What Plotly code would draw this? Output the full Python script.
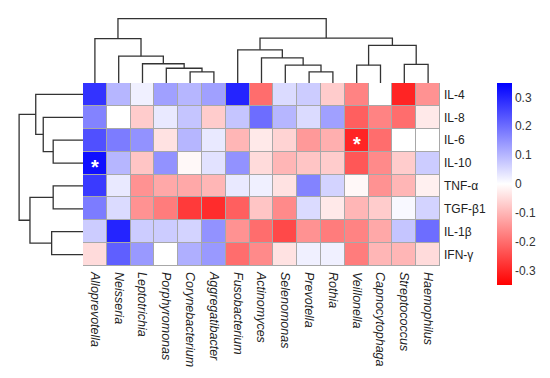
import plotly.graph_objects as go

# ---------------- data ----------------
genera = ["Alloprevotella", "Neisseria", "Leptotrichia", "Porphyromonas", "Corynebacterium",
          "Aggregatibacter", "Fusobacterium", "Actinomyces", "Selenomonas", "Prevotella",
          "Rothia", "Veillonella", "Capnocytophaga", "Streptococcus", "Haemophilus"]
cytokines = ["IL-4", "IL-8", "IL-6", "IL-10", "TNF-α", "TGF-β1", "IL-1β", "IFN-γ"]

il4   = [0.28, 0.10, 0.02, 0.13, 0.10, 0.13, 0.30, -0.20, 0.05, 0.07, -0.07, -0.17, 0.00, -0.30, -0.15]
il8   = [0.17, 0.00, -0.07, 0.03, 0.08, -0.07, 0.08, 0.20, 0.10, 0.05, 0.13, -0.22, -0.17, -0.20, -0.03]
il6   = [0.24, 0.18, 0.15, -0.04, 0.10, 0.03, -0.10, -0.03, -0.06, -0.14, -0.11, -0.30, -0.20, 0.00, 0.00]
il10  = [0.33, 0.10, -0.08, 0.15, -0.01, 0.04, 0.15, -0.05, -0.10, -0.08, -0.07, -0.23, -0.16, -0.07, 0.07]
tnf   = [0.27, 0.03, -0.15, -0.12, -0.12, -0.10, 0.03, 0.02, -0.04, 0.17, 0.06, -0.01, -0.15, -0.10, -0.02]
tgf   = [0.18, 0.05, -0.15, -0.18, -0.27, -0.29, -0.22, -0.08, -0.16, 0.05, -0.03, -0.10, -0.07, 0.01, 0.06]
il1b  = [0.07, 0.30, 0.07, 0.07, 0.06, 0.15, -0.15, -0.20, -0.25, -0.15, -0.18, -0.17, -0.12, 0.08, 0.20]
ifng  = [-0.05, 0.22, 0.14, 0.00, 0.11, 0.14, -0.20, -0.16, -0.04, 0.02, 0.02, -0.18, -0.10, -0.10, -0.05]
values = [il4, il8, il6, il10, tnf, tgf, il1b, ifng]

# significance markers: (row, col)
stars = [(3, 0), (2, 11)]

# dendrogram merges: (left, right, height); leaves 0..n-1, clusters n, n+1, ...
col_merges = [(4, 5, 12.3), (3, 15, 16.3), (2, 16, 21.3), (1, 17, 29.7), (0, 18, 49.0),
              (9, 10, 12.3), (8, 20, 19.7), (7, 21, 27.7), (6, 22, 36.7),
              (11, 12, 19.7), (13, 14, 20.7), (24, 25, 41.7), (23, 26, 49.7), (19, 27, 71.3)]
row_merges = [(2, 3, 33.0), (1, 8, 44.0), (0, 9, 52.3), (4, 5, 33.0), (6, 7, 34.7),
              (11, 12, 58.7), (10, 13, 70.7)]

cbar_ticks = [0.3, 0.2, 0.1, 0, -0.1, -0.2, -0.3]
cbar_text = ["0.3", "0.2", "0.1", "0", "-0.1", "-0.2", "-0.3"]

# ---------------- layout helpers ----------------
OFF = 8                      # page body margin of the browser
W, H = 550 - OFF, 378 - OFF  # figure size so that figure + margin fill the window
gx0, gx1, gy0, gy1 = 83 - OFF, 440 - OFF, 83 - OFF, 266 - OFF  # grid pixel box (figure px)


def dendro_lines(merges, n):
    pos = {i: float(i) for i in range(n)}
    hgt = {i: 0.0 for i in range(n)}
    P, Hh = [], []
    for k, (a, b, h) in enumerate(merges):
        P += [pos[a], pos[a], pos[b], pos[b], None]
        Hh += [hgt[a], h, h, hgt[b], None]
        pos[n + k] = (pos[a] + pos[b]) / 2
        hgt[n + k] = h
    return P, Hh


fig = go.Figure()

fig.add_trace(go.Heatmap(
    z=values, x=list(range(len(genera))), y=list(range(len(cytokines))),
    colorscale=[[0, "#FF0000"], [0.5, "#FFFFFF"], [1, "#0000FF"]],
    zmin=-0.35, zmax=0.35, xgap=1, ygap=1,
    colorbar=dict(x=(497 - OFF) / W, xanchor="left", y=1 - (184 - OFF) / H, yanchor="middle",
                  xpad=0, ypad=0,
                  thickness=15, lenmode="pixels", len=202, outlinewidth=0,
                  tickvals=cbar_ticks, ticktext=cbar_text, ticks="",
                  tickfont=dict(family="Liberation Sans, Arial", size=12, color="#333333")),
    hoverinfo="skip",
))

cx, ch = dendro_lines(col_merges, len(genera))
fig.add_trace(go.Scatter(x=cx, y=ch, xaxis="x", yaxis="y2", mode="lines",
                         line=dict(color="#333333", width=1.3), hoverinfo="skip", showlegend=False))
ry, rh = dendro_lines(row_merges, len(cytokines))
fig.add_trace(go.Scatter(x=rh, y=ry, xaxis="x3", yaxis="y", mode="lines",
                         line=dict(color="#333333", width=1.3), hoverinfo="skip", showlegend=False))

for r, c in stars:
    fig.add_annotation(x=c, y=r, xref="x", yref="y", text="<b>*</b>", showarrow=False,
                       font=dict(color="white", size=20, family="Liberation Sans, Arial"),
                       yshift=-4)

fig.add_shape(type="rect", xref="x", yref="y", x0=-0.5, x1=len(genera) - 0.5,
              y0=-0.5, y1=len(cytokines) - 0.5, fillcolor="#a8a8a8",
              line=dict(color="#a8a8a8", width=1), layer="below")

fig.update_layout(
    width=W, height=H, margin=dict(l=0, r=0, t=0, b=0, autoexpand=False),
    paper_bgcolor="white", plot_bgcolor="white", showlegend=False,
    font=dict(family="Liberation Sans, Arial", size=12, color="#222222"),
    xaxis=dict(domain=[gx0 / W, gx1 / W], range=[-0.5, len(genera) - 0.5],
               tickvals=list(range(len(genera))), ticktext=[f"<i>{g}</i>" for g in genera],
               tickangle=90, showgrid=False, zeroline=False, ticks="", anchor="y",
               automargin=False,
               ticklabelstandoff=5, tickfont=dict(size=12.5, color="#222222")),
    yaxis=dict(domain=[1 - gy1 / H, 1 - gy0 / H], range=[len(cytokines) - 0.5, -0.5],
               tickvals=list(range(len(cytokines))), ticktext=cytokines, side="right",
               showgrid=False, zeroline=False, ticks="", anchor="x", automargin=False,
               ticklabelstandoff=3, tickfont=dict(size=12, color="#222222")),
    yaxis2=dict(domain=[1 - gy0 / H, 1], range=[0, gy0 + OFF], visible=False, anchor="x"),
    xaxis3=dict(domain=[0, gx0 / W], range=[gx0 + OFF, 0], visible=False, anchor="y"),
)

fig.write_html("out.html")
